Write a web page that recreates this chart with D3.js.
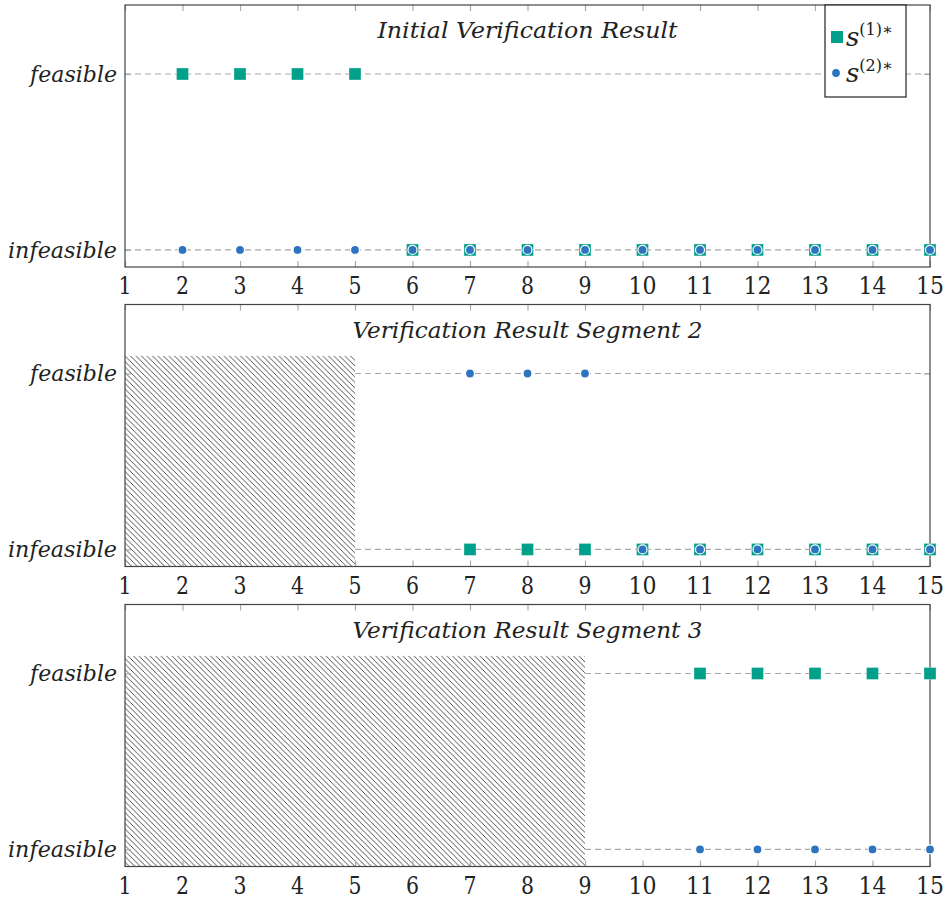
<!DOCTYPE html>
<html><head><meta charset="utf-8">
<script src="https://cdn.jsdelivr.net/npm/d3@7"></script>
<style>body{margin:0;background:#fff}svg{display:block}</style>
</head><body>
<svg id="chart" width="952" height="900"></svg>
<script>
const xTicks = [1,2,3,4,5,6,7,8,9,10,11,12,13,14,15];
const yLabels = ["infeasible","feasible"];
const titles = ["Initial Verification Result","Verification Result Segment 2","Verification Result Segment 3"];
const hatchEnd = [null, 5, 9];
// series: x values and y (0 = infeasible, 1 = feasible)
const s1x = [[2,3,4,5,6,7,8,9,10,11,12,13,14,15],[7,8,9,10,11,12,13,14,15],[11,12,13,14,15]];
const s1y = [[1,1,1,1,0,0,0,0,0,0,0,0,0,0],[0,0,0,0,0,0,0,0,0],[1,1,1,1,1]];
const s2x = [[2,3,4,5,6,7,8,9,10,11,12,13,14,15],[7,8,9,10,11,12,13,14,15],[11,12,13,14,15]];
const s2y = [[0,0,0,0,0,0,0,0,0,0,0,0,0,0],[1,1,1,0,0,0,0,0,0],[0,0,0,0,0]];

const svg = d3.select("#chart");
const teal = "#00a08a", blue = "#2c74c0";
const font = "DejaVu Serif, serif";
const left = 125, right = 930, ph = 262;
const tops = [5, 304.5, 604.5];
const x = d3.scaleLinear().domain([1,15]).range([left,right]);

const defs = svg.append("defs");
const pat = defs.append("pattern").attr("id","hatch").attr("patternUnits","userSpaceOnUse")
  .attr("width",5.5).attr("height",5.5);
pat.append("path").attr("d","M-1,-1 L6.5,6.5 M-6.5,-1 L1,6.5 M4.5,-1 L12,6.5").attr("stroke","#333").attr("stroke-width",0.85);

tops.forEach((top, i) => {
  const y = d3.scaleLinear().domain([-0.097, 1.392]).range([top+ph, top]);
  const g = svg.append("g");
  const hx = hatchEnd[i] ? x(hatchEnd[i]) : left;
  g.selectAll("line.grid").data([0,1]).join("line")
    .attr("x1", hx).attr("x2", right).attr("y1", d=>y(d)).attr("y2", d=>y(d))
    .attr("stroke","#a8a8a8").attr("stroke-width",1.2).attr("stroke-dasharray","6,4");
  if (hatchEnd[i]) {
    g.append("rect").attr("x", left).attr("y", y(1.1)).attr("width", x(hatchEnd[i])-left)
      .attr("height", top+ph - y(1.1)).attr("fill","url(#hatch)");
  }
  const xb = d3.axisBottom(x).tickValues(xTicks).tickSize(-6).tickFormat("");
  const gb = g.append("g").attr("transform",`translate(0,${top+ph})`).call(xb);
  const xt = d3.axisTop(x).tickValues(xTicks).tickSize(-6).tickFormat("");
  const gt = g.append("g").attr("transform",`translate(0,${top})`).call(xt);
  const yl = d3.axisLeft(y).tickValues([0,1]).tickSize(-6).tickFormat("");
  const gl = g.append("g").attr("transform",`translate(${left},0)`).call(yl);
  const yr = d3.axisRight(y).tickValues([0,1]).tickSize(-6).tickFormat("");
  const gr = g.append("g").attr("transform",`translate(${right},0)`).call(yr);
  [gb,gt,gl,gr].forEach(a => { a.select(".domain").remove(); a.selectAll(".tick line").attr("stroke","#aaa").attr("stroke-width",1.2); });
  g.append("rect").attr("x",left).attr("y",top).attr("width",right-left).attr("height",ph)
    .attr("fill","none").attr("stroke","#444").attr("stroke-width",1.2);
  g.selectAll("text.xl").data(xTicks).join("text")
    .attr("x", d=>x(d)).attr("y", top+ph+27).attr("text-anchor","middle")
    .style("font-family",font).style("font-size","24px").attr("fill","#222").text(d=>d)
    .each(function(d){ d3.select(this).attr("textLength", d>=10 ? 28 : 13).attr("lengthAdjust","spacingAndGlyphs"); });
  g.selectAll("text.yl").data(yLabels).join("text")
    .attr("x", left-8).attr("y", (d,j)=>y(j)+8).attr("text-anchor","end")
    .style("font-family",font).style("font-size","23px").style("font-style","italic").attr("fill","#222").text(d=>d)
    .attr("textLength",(d,j)=> j ? 87 : 109).attr("lengthAdjust","spacingAndGlyphs");
  g.append("text").attr("x",(left+right)/2).attr("y",top+33).attr("text-anchor","middle")
    .style("font-family",font).style("font-size","23px").style("font-style","italic").attr("fill","#222").text(titles[i])
    .attr("textLength", i ? 350 : 300).attr("lengthAdjust","spacingAndGlyphs");
  g.selectAll("rect.s1").data(s1x[i].map((v,k)=>[v,s1y[i][k]])).join("rect")
    .attr("x",d=>x(d[0])-6).attr("y",d=>y(d[1])-6).attr("width",12).attr("height",12)
    .attr("fill",teal).attr("stroke","#fff").attr("stroke-opacity",0.4).attr("stroke-width",0.8);
  g.selectAll("circle.s2").data(s2x[i].map((v,k)=>[v,s2y[i][k]])).join("circle")
    .attr("cx",d=>x(d[0])).attr("cy",d=>y(d[1])).attr("r",4.5)
    .attr("fill",blue).attr("stroke","#fff").attr("stroke-width",1.2);
});

const lg = svg.append("g");
lg.append("rect").attr("x",825).attr("y",5).attr("width",81).attr("height",92)
  .attr("fill","#fff").attr("stroke","#222").attr("stroke-width",1.2);
lg.append("rect").attr("x",831).attr("y",31).attr("width",12).attr("height",12).attr("fill",teal);
lg.append("circle").attr("cx",836).attr("cy",73).attr("r",4.5).attr("fill",blue).attr("stroke","#fff").attr("stroke-width",1.2);
[["1",46],["2",82]].forEach(([n,yy]) => {
  const t = lg.append("text").attr("x",846).attr("y",yy).style("font-family",font).attr("fill","#222");
  t.append("tspan").style("font-size","26px").style("font-style","italic").text("s");
  t.append("tspan").attr("dy",-11).style("font-size","16px").text(`(${n})∗`);
});
</script>
</body></html>
